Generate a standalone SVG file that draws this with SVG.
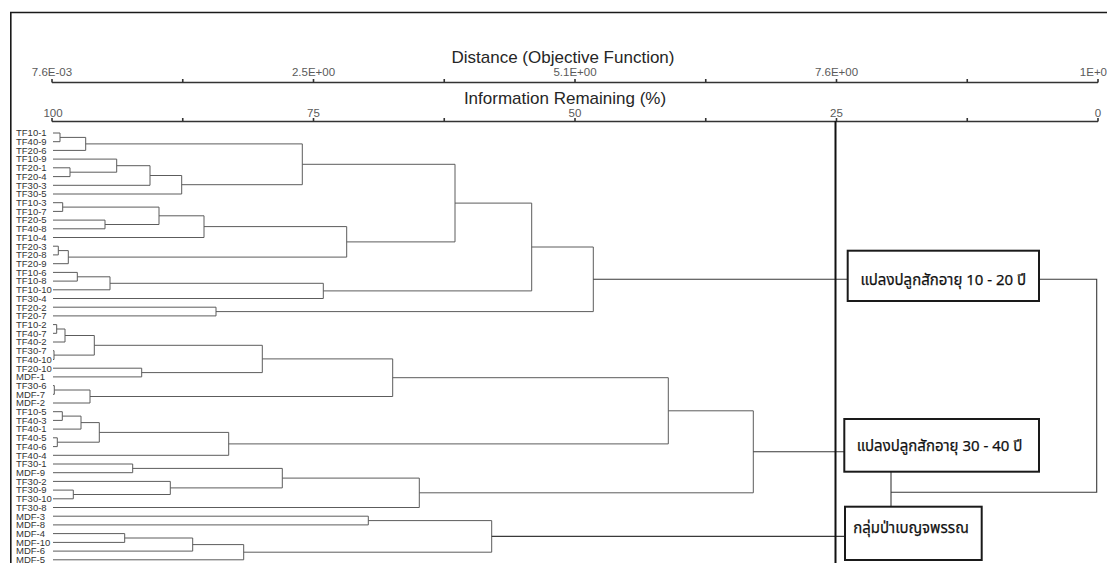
<svg xmlns="http://www.w3.org/2000/svg" width="1107" height="563" viewBox="0 0 1107 563">
<style>
text{font-family:"Liberation Sans",Arial,sans-serif}
.title{font-size:17px;fill:#262626;text-anchor:middle}
.tick{font-size:11.5px;fill:#5a5a5a;text-anchor:middle}
.lbl{font-size:9.5px;fill:#333}
.dg{stroke:#5c5c5c;stroke-width:1;fill:none}
.ax{stroke:#333;stroke-width:1.6;fill:none}
.box{fill:#fff;stroke:#1a1a1a;stroke-width:2}
.th{font-family:"Noto Sans Thai",Tahoma,"DejaVu Sans",sans-serif;font-size:15px;fill:#111;stroke:#111;stroke-width:0.25}
.ln{stroke:#3a3a3a;stroke-width:1.1;fill:none}
</style>
<rect width="1107" height="563" fill="#fff"/>
<path d="M10.8 563 V12.5 H1107" stroke="#1a1a1a" stroke-width="1.6" fill="none"/>
<g id="axes">
<text class="title" x="563" y="63">Distance (Objective Function)</text>
<text class="tick" x="52" y="76">7.6E-03</text>
<text class="tick" x="313.5" y="76">2.5E+00</text>
<text class="tick" x="575" y="76">5.1E+00</text>
<text class="tick" x="836.5" y="76">7.6E+00</text>
<text class="tick" x="1107" y="76" style="text-anchor:end">1E+0</text>
<path class="ax" d="M52 82.5 H1098 M52 79 V82.5 M182.75 79 V82.5 M313.5 79 V82.5 M444.25 79 V82.5 M575 79 V82.5 M705.75 79 V82.5 M836.5 79 V82.5 M967.25 79 V82.5 M1098 79 V82.5"/>
<text class="title" x="565" y="104">Information Remaining (%)</text>
<text class="tick" x="53" y="117">100</text>
<text class="tick" x="313.5" y="117">75</text>
<text class="tick" x="575" y="117">50</text>
<text class="tick" x="836.5" y="117">25</text>
<text class="tick" x="1098" y="117">0</text>
<path class="ax" d="M52 121.5 H1098 M52 118 V121.5 M182.75 118 V121.5 M313.5 118 V121.5 M444.25 118 V121.5 M575 118 V121.5 M705.75 118 V121.5 M836.5 118 V121.5 M967.25 118 V121.5 M1098 118 V121.5"/>
</g>
<g id="leaves" class="lbl">
<text x="16" y="136.3">TF10-1</text>
<text x="16" y="145">TF40-9</text>
<text x="16" y="153.7">TF20-6</text>
<text x="16" y="162.4">TF10-9</text>
<text x="16" y="171.1">TF20-1</text>
<text x="16" y="179.9">TF20-4</text>
<text x="16" y="188.6">TF30-3</text>
<text x="16" y="197.3">TF30-5</text>
<text x="16" y="206">TF10-3</text>
<text x="16" y="214.7">TF10-7</text>
<text x="16" y="223.4">TF20-5</text>
<text x="16" y="232.1">TF40-8</text>
<text x="16" y="240.8">TF10-4</text>
<text x="16" y="249.5">TF20-3</text>
<text x="16" y="258.2">TF20-8</text>
<text x="16" y="267">TF20-9</text>
<text x="16" y="275.7">TF10-6</text>
<text x="16" y="284.4">TF10-8</text>
<text x="16" y="293.1">TF10-10</text>
<text x="16" y="301.8">TF30-4</text>
<text x="16" y="310.5">TF20-2</text>
<text x="16" y="319.2">TF20-7</text>
<text x="16" y="327.9">TF10-2</text>
<text x="16" y="336.6">TF40-7</text>
<text x="16" y="345.3">TF40-2</text>
<text x="16" y="354">TF30-7</text>
<text x="16" y="362.8">TF40-10</text>
<text x="16" y="371.5">TF20-10</text>
<text x="16" y="380.2">MDF-1</text>
<text x="16" y="388.9">TF30-6</text>
<text x="16" y="397.6">MDF-7</text>
<text x="16" y="406.3">MDF-2</text>
<text x="16" y="415">TF10-5</text>
<text x="16" y="423.7">TF40-3</text>
<text x="16" y="432.4">TF40-1</text>
<text x="16" y="441.1">TF40-5</text>
<text x="16" y="449.9">TF40-6</text>
<text x="16" y="458.6">TF40-4</text>
<text x="16" y="467.3">TF30-1</text>
<text x="16" y="476">MDF-9</text>
<text x="16" y="484.7">TF30-2</text>
<text x="16" y="493.4">TF30-9</text>
<text x="16" y="502.1">TF30-10</text>
<text x="16" y="510.8">TF30-8</text>
<text x="16" y="519.5">MDF-3</text>
<text x="16" y="528.2">MDF-8</text>
<text x="16" y="536.9">MDF-4</text>
<text x="16" y="545.7">MDF-10</text>
<text x="16" y="554.4">MDF-6</text>
<text x="16" y="563.1">MDF-5</text>
</g>
<g id="connectors">
<path class="dg" d="M53 133 H60 V141.7 H53 M60 137.4 H85.7 V150.4 H53 M53 167.8 H70 V176.6 H53 M53 159.1 H116.7 V172.2 H70 M116.7 165.7 H150 V185.3 H53 M150 175.5 H181.7 V194 H53 M85.7 143.9 H302.3 V184.7 H181.7 M53 202.7 H62.7 V211.4 H53 M53 220.1 H105 V228.8 H53 M62.7 207.1 H159 V224.5 H105 M159 215.8 H204 V237.5 H53 M53 246.2 H58.3 V254.9 H53 M58.3 250.6 H68.3 V263.7 H53 M204 226.6 H346.7 V257.1 H68.3 M302.3 164.3 H455 V241.9 H346.7 M53 272.4 H77.3 V281.1 H53 M77.3 276.8 H110 V289.8 H53 M110 283.3 H323.3 V298.5 H53 M455 203.1 H531.7 V290.9 H323.3 M53 307.2 H216 V315.9 H53 M531.7 247 H593.3 V311.6 H216"/>
<path class="dg" d="M53 324.6 H56.7 V333.3 H53 M56.7 329 H65 V342 H53 M53 350.7 H54 V359.5 H53 M65 335.5 H94.3 V355.1 H54 M53 368.2 H141.7 V376.9 H53 M94.3 345.3 H262.3 V372.6 H141.7 M53 385.6 H54.3 V394.3 H53 M54.3 390 H90 V403 H53 M262.3 358.9 H392.7 V396.5 H90 M53 411.7 H62.3 V420.4 H53 M62.3 416.1 H81 V429.1 H53 M53 437.8 H57.3 V446.6 H53 M81 422.6 H99.3 V442.2 H57.3 M99.3 432.4 H228.7 V455.3 H53 M392.7 377.7 H668.3 V443.9 H228.7 M53 464 H132.7 V472.7 H53 M53 490.1 H73.3 V498.8 H53 M53 481.4 H170.3 V494.5 H73.3 M132.7 468.4 H282.3 V487.9 H170.3 M282.3 478.1 H419.3 V507.5 H53 M668.3 410.8 H753.3 V492.8 H419.3"/>
<path class="dg" d="M53 516.2 H368.3 V524.9 H53 M53 533.6 H124.7 V542.4 H53 M124.7 538 H192.7 V551.1 H53 M192.7 544.6 H243.7 V559.8 H53 M368.3 520.6 H491.7 V552.2 H243.7"/>
<path class="ln" d="M593.3 279.3 H847.7 M753.3 451.8 H844.3 M491.7 536.4 H845"/>
<path class="ln" d="M1039 279.3 H1096.7 V492.3 H891 M891 471.7 V506.7"/>
<path d="M835.5 121 V563" stroke="#111" stroke-width="2" fill="none"/>
</g>
<g id="box1">
<rect class="box" x="847.7" y="250.7" width="191.3" height="50.3"/>
<text class="th" x="943.3" y="284.5" text-anchor="middle">แปลงปลูกสักอายุ 10 - 20 ปี</text>
</g>
<g id="box2">
<rect class="box" x="844.3" y="419" width="194.7" height="52.7"/>
<text class="th" x="939.5" y="450.5" text-anchor="middle">แปลงปลูกสักอายุ 30 - 40 ปี</text>
</g>
<g id="box3">
<rect class="box" x="845" y="506.7" width="136.7" height="53.3"/>
<text class="th" x="911" y="532.5" text-anchor="middle">กลุ่มป่าเบญจพรรณ</text>
</g>
</svg>
